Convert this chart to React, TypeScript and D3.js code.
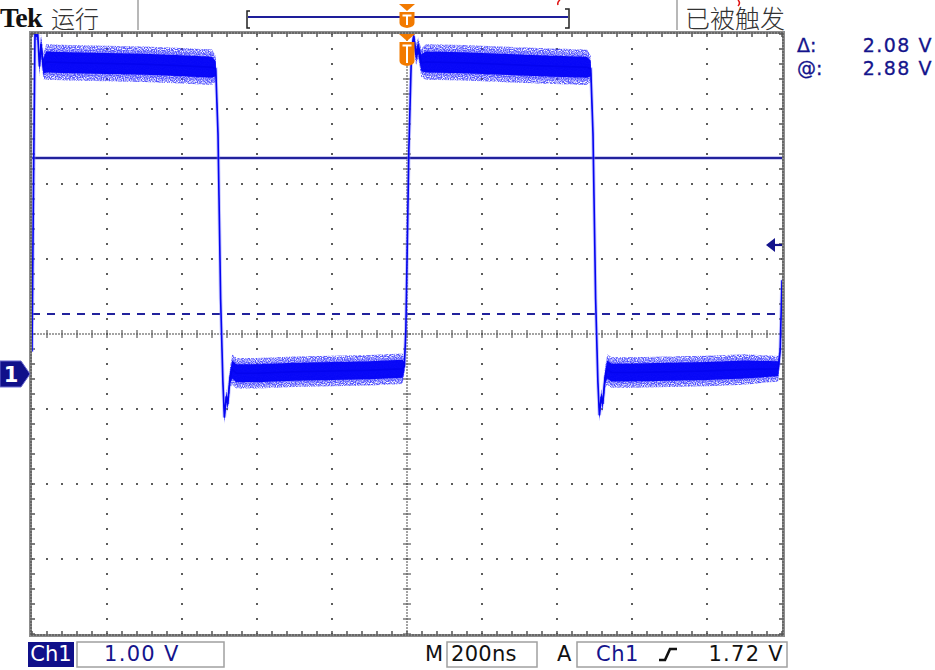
import React from 'react';
import * as d3 from 'd3';

// ---- data (time in ns relative to trigger, volts on Ch1) ----
const timeNs = [-1000, -996, -992, -985, -980, -976, -970, -962, -900, -800, -700, -600, -520, -510, -504, -497, -491, -487, -482, -478, -472, -466, -455, -400, -300, -200, -100, -12, -7, -3, 5, 12, 18, 24, 30, 38, 50, 150, 250, 350, 480, 490, 496, 503, 509, 513, 518, 522, 528, 534, 545, 600, 700, 800, 900, 990, 995, 1000];
const volts = [0.3, 2.5, 4.55, 4.55, 4.1, 4.4, 4.1, 4.16, 4.15, 4.14, 4.13, 4.11, 4.09, 4.07, 3.2, 1.0, -0.1, -0.58, -0.3, -0.4, -0.05, 0.06, 0.01, 0.01, 0.03, 0.04, 0.05, 0.07, 0.1, 0.6, 3.0, 4.3, 4.5, 4.25, 4.35, 4.15, 4.16, 4.15, 4.13, 4.11, 4.09, 4.07, 3.2, 1.0, -0.1, -0.55, -0.3, -0.4, -0.05, 0.06, 0.02, 0.02, 0.03, 0.04, 0.06, 0.07, 0.3, 1.25];
const spread = [0.03, 0.03, 0.05, 0.06, 0.08, 0.08, 0.1, 0.14, 0.14, 0.14, 0.14, 0.14, 0.14, 0.1, 0.04, 0.03, 0.04, 0.05, 0.06, 0.06, 0.08, 0.12, 0.12, 0.12, 0.12, 0.12, 0.12, 0.12, 0.06, 0.03, 0.03, 0.05, 0.06, 0.08, 0.08, 0.11, 0.14, 0.14, 0.14, 0.14, 0.14, 0.1, 0.04, 0.03, 0.04, 0.05, 0.06, 0.06, 0.08, 0.12, 0.12, 0.12, 0.12, 0.12, 0.12, 0.1, 0.04, 0.03];

const cursorVolts = [2.88, 0.8];
const triggerVolt = 1.72;
const nsPerDiv = 200;
const voltsPerDiv = 1.0;
const hDivs = 10;
const vDivs = 8;
const groundDivBelowCenter = 0.533;

const headerLeft = 'Tek';
const headerRun = '运行';
const headerTrig = '已被触发';

const W = 935;
const H = 670;

export default function App() {
  const left = 32, right = 782, top = 34, bottom = 634;
  const divPx = (right - left) / hDivs;
  const cx = (left + right) / 2;
  const cy = (top + bottom) / 2;
  const x = d3.scaleLinear().domain([-nsPerDiv * hDivs / 2, nsPerDiv * hDivs / 2]).range([left, right]);
  const groundY = cy + groundDivBelowCenter * divPx;
  const y = d3.scaleLinear().domain([0, voltsPerDiv]).range([groundY, groundY - divPx]);
  const gx = d3.scaleLinear().domain([0, hDivs]).range([left, right]);
  const gy = d3.scaleLinear().domain([0, vDivs]).range([top, bottom]);

  const pts = timeNs.map((t, i) => ({ t, v: volts[i], s: spread[i] }));
  const areaK = (k: number) => d3.area<any>().x(d => x(d.t)).y0(d => y(d.v - d.s * k)).y1(d => y(d.v + d.s * k))(pts) || '';
  const line = d3.line<any>().x(d => x(d.t)).y(d => y(d.v))(pts) || '';

  // graticule dots
  const dots: JSX.Element[] = [];
  const dotColor = '#5c5c5c';
  d3.range(1, vDivs).forEach(j => {
    if (j === vDivs / 2) return;
    const yy = gy(j);
    d3.range(left, right + 1, divPx / 5).forEach((xx, k) => dots.push(<rect key={`h${j}-${k}`} x={xx - 1} y={yy - 1} width={2} height={2} fill={dotColor} />));
  });
  d3.range(1, hDivs).forEach(i => {
    if (i === hDivs / 2) return;
    const xx = gx(i);
    d3.range(top, bottom + 1, divPx / 5).forEach((yy, k) => dots.push(<rect key={`v${i}-${k}`} x={xx - 1} y={yy - 1} width={2} height={2} fill={dotColor} />));
  });
  d3.range(left, right + 1, 3).forEach((xx, k) => dots.push(<rect key={`ch${k}`} x={xx - 0.75} y={cy - 0.75} width={1.5} height={1.5} fill={dotColor} />));
  d3.range(top, bottom + 1, 3).forEach((yy, k) => dots.push(<rect key={`cv${k}`} x={cx - 0.75} y={yy - 0.75} width={1.5} height={1.5} fill={dotColor} />));
  d3.range(left, right + 1, divPx / 5).forEach((xx, k) => dots.push(<rect key={`cht${k}`} x={xx - 0.6} y={cy - 4} width={1.2} height={8} fill={dotColor} />));
  d3.range(top, bottom + 1, divPx / 5).forEach((yy, k) => dots.push(<rect key={`cvt${k}`} x={cx - 4} y={yy - 0.6} width={8} height={1.2} fill={dotColor} />));

  // frame ticks
  const frameTicks: JSX.Element[] = [];
  d3.range(left, right + 1, 3).forEach((xx, k) => {
    frameTicks.push(<rect key={`ft${k}`} x={xx - 0.5} y={top - 2} width={1} height={2} fill="#444" />);
    frameTicks.push(<rect key={`fb${k}`} x={xx - 0.5} y={bottom} width={1} height={2} fill="#444" />);
  });
  d3.range(top, bottom + 1, 3).forEach((yy, k) => {
    frameTicks.push(<rect key={`fl${k}`} x={left - 2} y={yy - 0.5} width={2} height={1} fill="#444" />);
    frameTicks.push(<rect key={`fr${k}`} x={right} y={yy - 0.5} width={2} height={1} fill="#444" />);
  });
  d3.range(left, right + 1, divPx / 5).forEach((xx, k) => {
    frameTicks.push(<rect key={`ftt${k}`} x={xx - 0.75} y={top} width={1.5} height={3} fill="#555" />);
    frameTicks.push(<rect key={`fbt${k}`} x={xx - 0.75} y={bottom - 3} width={1.5} height={3} fill="#555" />);
  });
  d3.range(top, bottom + 1, divPx / 5).forEach((yy, k) => {
    frameTicks.push(<rect key={`flt${k}`} x={left} y={yy - 0.75} width={3} height={1.5} fill="#555" />);
    frameTicks.push(<rect key={`frt${k}`} x={right - 3} y={yy - 0.75} width={3} height={1.5} fill="#555" />);
  });

  const navy = '#14148c';
  const orange = '#f27a00';
  const sans = '"DejaVu Sans", Verdana, sans-serif';
  const cjk = '"Noto Sans CJK SC", sans-serif';
  const trigX = x(0);
  const trigY = y(triggerVolt);
  const deltaV = cursorVolts[0] - cursorVolts[1];

  const tMarker = (tx: number, ty: number, h: number, key: string) => (
    <g key={key}>
      <path d={`M${tx - 8},${ty} L${tx + 8},${ty} L${tx},${ty + 7} Z`} fill={orange} />
      <path d={`M${tx - 7.5},${ty + 8} H${tx + 7.5} V${ty + h - 5} Q${tx + 7.5},${ty + h - 1} ${tx},${ty + h} Q${tx - 7.5},${ty + h - 1} ${tx - 7.5},${ty + h - 5} Z`} fill={orange} />
      <path d={`M${tx - 4.5},${ty + 11.5} H${tx + 4.5} M${tx},${ty + 11.5} V${ty + h - 3}`} stroke="#fff" strokeWidth={2} />
    </g>
  );

  return (
    <svg width={W} height={H} style={{ position: 'absolute', left: 0, top: 0, background: '#fff' }} xmlns="http://www.w3.org/2000/svg">
      <defs>
        <clipPath id="scr"><rect x={left} y={top} width={right - left} height={bottom - top} /></clipPath>
        <filter id="speck" x="-5%" y="-20%" width="110%" height="140%">
          <feTurbulence type="fractalNoise" baseFrequency="0.85" numOctaves={1} seed={7} result="noise" />
          <feColorMatrix in="noise" type="matrix" values="0 0 0 0 0  0 0 0 0 0  0 0 0 0 0  3.2 0 0 0 -1.0" result="mask" />
          <feComposite in="SourceGraphic" in2="mask" operator="in" />
        </filter>
      </defs>
      <rect x={0} y={0} width={W} height={H} fill="#fff" />

      {/* header */}
      <text x={0} y={27} fontFamily='"Liberation Serif", serif' fontWeight="bold" fontSize={28} fill="#111" letterSpacing={-0.8}>{headerLeft}</text>
      <text x={51} y={28} fontFamily={cjk} fontWeight={300} fontSize={24} fill="#333">{headerRun}</text>
      <line x1={138} y1={0} x2={138} y2={30} stroke="#a0a0a0" strokeWidth={1.5} />
      <line x1={677} y1={0} x2={677} y2={30} stroke="#a0a0a0" strokeWidth={1.5} />
      <text x={685} y={28} fontFamily={cjk} fontWeight={300} fontSize={25} fill="#333">{headerTrig}</text>
      <path d="M250,11 H247 V28 H250" fill="none" stroke="#222" strokeWidth={1.5} />
      <path d="M565,9 H569 V28 H565" fill="none" stroke="#222" strokeWidth={1.5} />
      <line x1={248} y1={17} x2={568} y2={17} stroke="#1e1e9a" strokeWidth={2} />
      <path d="M560,0 Q557,2 558,5" fill="none" stroke="#e01010" strokeWidth={1.5} />
      <path d="M738,0 Q741,3 738,6" fill="none" stroke="#e01010" strokeWidth={1.5} />
      {tMarker(trigX, 4, 24, 'tm1')}

      {/* graticule */}
      <g>{dots}</g>
      <rect x={left - 1.5} y={top - 1.5} width={right - left + 3} height={bottom - top + 3} fill="none" stroke="#8c8c8c" strokeWidth={3} />
      <g>{frameTicks}</g>

      {/* cursors */}
      <line x1={left} x2={right} y1={y(cursorVolts[0])} y2={y(cursorVolts[0])} stroke="#a8a8e8" strokeWidth={4} opacity={0.6} />
      <line x1={left} x2={right} y1={y(cursorVolts[0])} y2={y(cursorVolts[0])} stroke="#22229c" strokeWidth={2} />
      <line x1={left} x2={right} y1={y(cursorVolts[1])} y2={y(cursorVolts[1])} stroke="#22229c" strokeWidth={1.8} strokeDasharray="8,7" />

      {/* trace */}
      <g clipPath="url(#scr)">
        <path d={areaK(1.7)} fill="#2a2aff" opacity={0.8} filter="url(#speck)" />
        <path d={areaK(1.3)} fill="#4848ff" opacity={0.3} />
        <path d={line} fill="none" stroke="#8080ff" strokeWidth={3.5} opacity={0.45} />
        <path d={areaK(1)} fill="#0404f8" opacity={0.97} />
        <path d={line} fill="none" stroke="#0404f0" strokeWidth={1.6} />
      </g>

      {/* trigger position marker in screen */}
      {tMarker(trigX, top, 32, 'tm2')}

      {/* trigger level arrow */}
      <path d={`M${right - 16},${trigY} L${right - 7},${trigY - 7} L${right - 7},${trigY + 7} Z`} fill={navy} />
      <line x1={right - 9} x2={right} y1={trigY} y2={trigY} stroke={navy} strokeWidth={2.2} />

      {/* ch1 ground marker */}
      <path d={`M0,${groundY - 13} H21 L30,${groundY} L21,${groundY + 13} H0 Z`} fill="#10108a" stroke="#6a6ad0" strokeWidth={1} />
      <text x={11} y={groundY + 8} textAnchor="middle" fontFamily={sans} fontWeight="bold" fontSize={21} fill="#fff">1</text>

      {/* readouts */}
      <text x={797} y={52} fontFamily={sans} fontSize={19} fill={navy} stroke={navy} strokeWidth={0.3}>Δ:</text>
      <text x={933} y={52} textAnchor="end" fontFamily={sans} fontSize={19} fill={navy} stroke={navy} strokeWidth={0.3} letterSpacing={1.5}>{`${deltaV.toFixed(2)} V`}</text>
      <text x={797} y={75} fontFamily={sans} fontSize={19} fill={navy} stroke={navy} strokeWidth={0.3}>@:</text>
      <text x={933} y={75} textAnchor="end" fontFamily={sans} fontSize={19} fill={navy} stroke={navy} strokeWidth={0.3} letterSpacing={1.5}>{`${cursorVolts[0].toFixed(2)} V`}</text>

      {/* bottom bar */}
      <rect x={28} y={642} width={46} height={25} fill="#10108a" />
      <text x={51} y={661} textAnchor="middle" fontFamily={sans} fontSize={21} fill="#fff">Ch1</text>
      <rect x={77} y={642} width={147} height={25} fill="#fff" stroke="#a0a0a0" strokeWidth={1.5} />
      <text x={104} y={661} fontFamily={sans} fontSize={21} fill={navy} letterSpacing={1.3}>{`${voltsPerDiv.toFixed(2)} V`}</text>
      <text x={425} y={661} fontFamily={sans} fontSize={21} fill="#111">M</text>
      <rect x={447} y={642} width={90} height={25} fill="#fff" stroke="#a0a0a0" strokeWidth={1.5} />
      <text x={451} y={661} fontFamily={sans} fontSize={21} fill="#111" letterSpacing={0.3}>{`${nsPerDiv}ns`}</text>
      <text x={557} y={661} fontFamily={sans} fontSize={21} fill="#111">A</text>
      <rect x={577} y={642} width={210} height={25} fill="#fff" stroke="#a0a0a0" strokeWidth={1.5} />
      <text x={596} y={661} fontFamily={sans} fontSize={21} fill={navy} letterSpacing={0.5}>Ch1</text>
      <path d="M659,660 H665 L670,649 H677" fill="none" stroke="#111" strokeWidth={2.6} />
      <text x={784} y={661} textAnchor="end" fontFamily={sans} fontSize={21} fill="#111" letterSpacing={1.3}>{`${triggerVolt.toFixed(2)} V`}</text>
    </svg>
  );
}
